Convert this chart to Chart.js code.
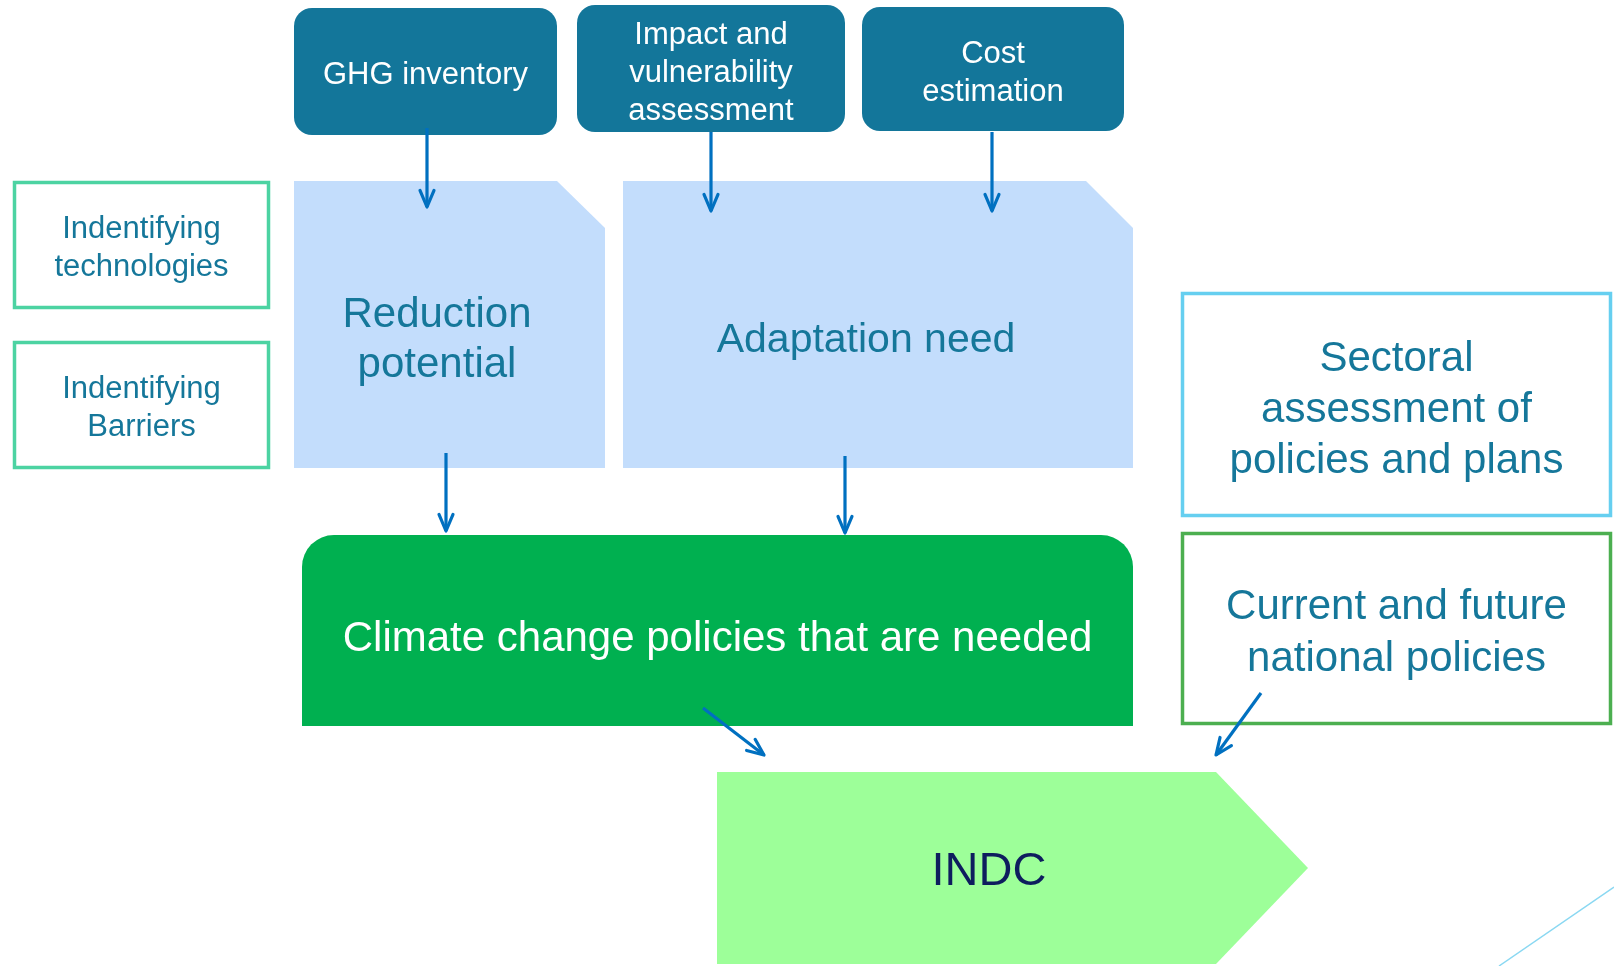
<!DOCTYPE html>
<html>
<head>
<meta charset="utf-8">
<script src="https://cdn.jsdelivr.net/npm/chart.js@4/dist/chart.umd.min.js"></script>
<style>
  html, body { margin: 0; padding: 0; background: #fff; }
  #flowChart { display: block; }
</style>
</head>
<body>
<canvas id="flowChart" width="1614" height="966"></canvas>
<script>
// node texts (one entry per box)
const nodeNames = ['ghg', 'impact', 'cost', 'reduction', 'adaptation', 'tech', 'barriers', 'sectoral', 'climate', 'current', 'indc'];
const nodeLines = [
    ['GHG inventory'],
    ['Impact and', 'vulnerability', 'assessment'],
    ['Cost', 'estimation'],
    ['Reduction', 'potential'],
    ['Adaptation need'],
    ['Indentifying', 'technologies'],
    ['Indentifying', 'Barriers'],
    ['Sectoral', 'assessment of', 'policies and plans'],
    ['Climate change policies that are needed'],
    ['Current and future', 'national policies'],
    ['INDC']
];

// arrows: from node -> to node
const arrowFrom = ['ghg', 'impact', 'cost', 'reduction', 'adaptation', 'climate', 'current'];
const arrowTo = ['reduction', 'adaptation', 'adaptation', 'climate', 'climate', 'indc', 'indc'];

// layout in axis units (x 0..1614, y 0..966 top-down)
const layout = {
    ghg:        { x0: 294, y0: 8,   x1: 557,  y1: 135, shape: 'round', fill: '#13769A', text: '#ffffff', size: 31, lh: 38, ty: 75 },
    impact:     { x0: 577, y0: 5,   x1: 845,  y1: 132, shape: 'round', fill: '#13769A', text: '#ffffff', size: 31, lh: 38, ty: 73 },
    cost:       { x0: 862, y0: 7,   x1: 1124, y1: 131, shape: 'round', fill: '#13769A', text: '#ffffff', size: 31, lh: 38, ty: 73 },
    reduction:  { x0: 294, y0: 181, x1: 605,  y1: 468, shape: 'snip', snip: [48, 47], fill: '#C3DDFC', text: '#15779A', size: 42, lh: 50, tx: 437, ty: 340 },
    adaptation: { x0: 623, y0: 181, x1: 1133, y1: 468, shape: 'snip', snip: [47, 47], fill: '#C3DDFC', text: '#15779A', size: 41, lh: 50, tx: 866, ty: 341 },
    tech:       { x0: 13,  y0: 181, x1: 270,  y1: 309, shape: 'outline', stroke: '#4CD3A2', text: '#15779A', size: 31, lh: 38, ty: 248 },
    barriers:   { x0: 13,  y0: 341, x1: 270,  y1: 469, shape: 'outline', stroke: '#4CD3A2', text: '#15779A', size: 31, lh: 38, ty: 408 },
    sectoral:   { x0: 1181, y0: 292, x1: 1612, y1: 517, shape: 'outline', stroke: '#66CFF0', text: '#15779A', size: 42, lh: 51, ty: 410 },
    climate:    { x0: 302, y0: 535, x1: 1133, y1: 726, shape: 'tab', fill: '#00B050', text: '#ffffff', size: 42, lh: 50, ty: 639 },
    current:    { x0: 1181, y0: 532, x1: 1612, y1: 725, shape: 'outline', stroke: '#4CAF50', text: '#15779A', size: 42, lh: 52, ty: 633 },
    indc:       { x0: 717, y0: 772, x1: 1216, y1: 964, tip: 1308, shape: 'pentagon', fill: '#9DFF99', text: '#0E1D5E', size: 47, lh: 50, tx: 989, ty: 872, tipY: 868 }
};
// arrow end points in axis units
const arrowPts = [
    [427, 128, 427, 207],
    [711, 132, 711, 211],
    [992, 132, 992, 211],
    [446, 453, 446, 531],
    [845, 456, 845, 533],
    [703, 708, 764, 755],
    [1261, 693, 1216, 755]
];

const FONT = '"Liberation Sans", Arial, sans-serif';

const diagramPlugin = {
    id: 'diagram',
    beforeDatasetsDraw(chart) {
        const { ctx, scales: { x, y } } = chart;
        const px = v => x.getPixelForValue(v);
        const py = v => y.getPixelForValue(v);
        ctx.save();

        // decorative line bottom right
        ctx.strokeStyle = '#8AD8F2';
        ctx.lineWidth = 1.5;
        ctx.beginPath();
        ctx.moveTo(px(1499), py(966));
        ctx.lineTo(px(1614), py(887));
        ctx.stroke();

        nodeNames.forEach((name, i) => {
            const n = layout[name];
            const l = px(n.x0), t = py(n.y0), r = px(n.x1), b = py(n.y1);
            ctx.beginPath();
            if (n.shape === 'round') {
                ctx.roundRect(l, t, r - l, b - t, 18);
                ctx.fillStyle = n.fill;
                ctx.fill();
            } else if (n.shape === 'snip') {
                ctx.moveTo(l, t);
                ctx.lineTo(r - n.snip[0], t);
                ctx.lineTo(r, t + n.snip[1]);
                ctx.lineTo(r, b);
                ctx.lineTo(l, b);
                ctx.closePath();
                ctx.fillStyle = n.fill;
                ctx.fill();
            } else if (n.shape === 'tab') {
                ctx.roundRect(l, t, r - l, b - t, [32, 32, 0, 0]);
                ctx.fillStyle = n.fill;
                ctx.fill();
            } else if (n.shape === 'pentagon') {
                ctx.moveTo(l, t);
                ctx.lineTo(r, t);
                ctx.lineTo(px(n.tip), py(n.tipY));
                ctx.lineTo(r, b);
                ctx.lineTo(l, b);
                ctx.closePath();
                ctx.fillStyle = n.fill;
                ctx.fill();
            } else {
                ctx.rect(l + 1.5, t + 1.5, r - l - 3, b - t - 3);
                ctx.strokeStyle = n.stroke;
                ctx.lineWidth = 3.5;
                ctx.stroke();
            }

            // label
            const lines = nodeLines[i];
            const cx = n.tx !== undefined ? px(n.tx) : (l + r) / 2;
            const cy = n.ty !== undefined ? py(n.ty) : (t + b) / 2;
            ctx.fillStyle = n.text;
            ctx.font = n.size + 'px ' + FONT;
            ctx.textAlign = 'center';
            ctx.textBaseline = 'middle';
            const start = cy - (lines.length - 1) * n.lh / 2;
            lines.forEach((s, k) => ctx.fillText(s, cx, start + k * n.lh));
        });
        ctx.restore();
    },
    afterDatasetsDraw(chart) {
        const { ctx } = chart;
        ctx.save();
        ctx.strokeStyle = '#0070C0';
        ctx.lineWidth = 3.2;
        ctx.lineCap = 'round';
        ctx.lineJoin = 'round';
        chart.data.datasets.forEach((ds, i) => {
            const meta = chart.getDatasetMeta(i);
            const p0 = meta.data[0], p1 = meta.data[1];
            const ang = Math.atan2(p1.y - p0.y, p1.x - p0.x);
            const len = 18, spread = 0.4;
            ctx.beginPath();
            ctx.moveTo(p1.x - len * Math.cos(ang - spread), p1.y - len * Math.sin(ang - spread));
            ctx.lineTo(p1.x, p1.y);
            ctx.lineTo(p1.x - len * Math.cos(ang + spread), p1.y - len * Math.sin(ang + spread));
            ctx.stroke();
        });
        ctx.restore();
    }
};

const datasets = arrowPts.map((a, i) => ({
    label: arrowFrom[i] + ' -> ' + arrowTo[i],
    data: [{ x: a[0], y: a[1] }, { x: a[2], y: a[3] }],
    showLine: true,
    borderColor: '#0070C0',
    borderWidth: 3.2,
    pointRadius: 0,
    fill: false,
}));

new Chart(document.getElementById('flowChart').getContext('2d'), {
    type: 'scatter',
    data: { datasets: datasets },
    options: {
        responsive: false,
        animation: false,
        events: [],
        layout: { padding: 0 },
        plugins: { legend: { display: false }, tooltip: { enabled: false } },
        scales: {
            x: { type: 'linear', min: 0, max: 1614, display: false },
            y: { type: 'linear', min: 0, max: 966, reverse: true, display: false }
        }
    },
    plugins: [diagramPlugin]
});
</script>
</body>
</html>
